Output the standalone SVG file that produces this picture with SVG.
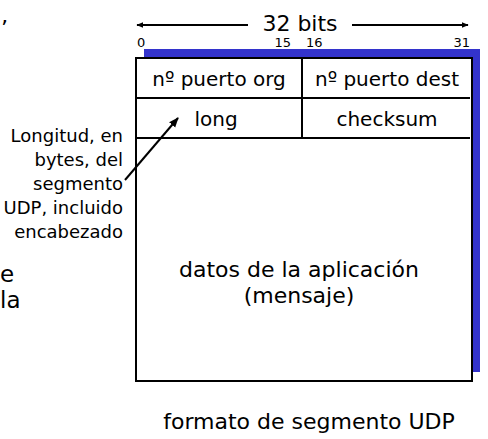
<svg xmlns="http://www.w3.org/2000/svg" width="488" height="439" viewBox="0 0 488 439">
<style>
text{font-family:"DejaVu Sans","Liberation Sans",sans-serif;fill:#000}
.f{font-size:20px;text-anchor:middle}
.s{font-size:13px}
.a{font-size:18px;text-anchor:end}
.ln{stroke:#000;stroke-width:2;fill:none}
</style>
<defs>
<marker id="ah" viewBox="0 0 10 10" refX="9" refY="5" markerWidth="7" markerHeight="7" orient="auto" markerUnits="userSpaceOnUse"><path d="M0,1 L10,5 L0,9 z" fill="#000"/></marker>
<marker id="ah2" viewBox="0 0 10 10" refX="9" refY="5" markerWidth="10" markerHeight="10" orient="auto" markerUnits="userSpaceOnUse"><path d="M0,1 L10,5 L0,9 z" fill="#000"/></marker>
</defs>
<g id="fragments">
<text x="1" y="36" style="font-size:22px">’</text>
<text x="0" y="282" style="font-size:23px">e</text>
<text x="0" y="308" style="font-size:23px">la</text>
</g>
<g id="width-label">
<text x="300" y="31" class="f" style="font-size:22px">32 bits</text>
<text x="137" y="47" class="s">0</text>
<text x="291" y="47" class="s" style="text-anchor:end">15</text>
<text x="306" y="47" class="s">16</text>
<text x="470" y="47" class="s" style="text-anchor:end">31</text>
</g>
<g id="segment">
<rect x="144" y="49" width="336" height="323" fill="#3333cc"/>
<rect x="136" y="58" width="336" height="323" fill="#fff" stroke="#000" stroke-width="2"/>
<line class="ln" x1="136" y1="98" x2="470" y2="98"/>
<line class="ln" x1="136" y1="138" x2="470" y2="138"/>
<line class="ln" x1="302" y1="58" x2="302" y2="138"/>
</g>
<g id="src-port"><text x="219" y="86" class="f">nº puerto org</text></g>
<g id="dst-port"><text x="387" y="86" class="f">nº puerto dest</text></g>
<g id="length"><text x="216" y="126" class="f">long</text></g>
<g id="checksum"><text x="387" y="126" class="f">checksum</text></g>
<g id="payload">
<text x="299" y="277" class="f" style="font-size:22px">datos de la aplicación</text>
<text x="299" y="303" class="f" style="font-size:22px">(mensaje)</text>
</g>
<g id="annotation">
<text x="123" y="142" class="a">Longitud, en</text>
<text x="123" y="166" class="a">bytes, del</text>
<text x="123" y="190" class="a">segmento</text>
<text x="123" y="214" class="a">UDP, incluido</text>
<text x="123" y="238" class="a">encabezado</text>
</g>
<g id="caption"><text x="309" y="429" class="f" style="font-size:22px">formato de segmento UDP</text></g>
<g id="connectors">
<line class="ln" x1="248" y1="25" x2="137" y2="25" stroke-width="1.5" marker-end="url(#ah)"/>
<line class="ln" x1="352" y1="25" x2="468" y2="25" stroke-width="1.5" marker-end="url(#ah)"/>
<line class="ln" x1="125" y1="180" x2="178" y2="118" marker-end="url(#ah2)"/>
</g>
</svg>
